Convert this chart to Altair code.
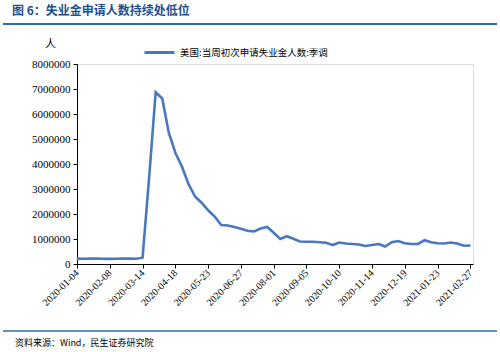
import altair as alt
import pandas as pd

dates = pd.date_range("2020-01-04", periods=61, freq="7D").strftime("%Y-%m-%d").tolist()
claims = [
    215000, 212000, 214000, 218000, 208000, 206000, 210000, 216000, 214000, 211000,
    251000, 3450000, 6870000, 6620000, 5250000, 4450000, 3900000, 3200000, 2700000, 2450000,
    2150000, 1900000, 1560000, 1540000, 1480000, 1410000, 1330000, 1300000, 1420000, 1480000,
    1250000, 1000000, 1110000, 1010000, 900000, 890000, 890000, 870000, 850000, 760000,
    860000, 820000, 800000, 780000, 720000, 760000, 800000, 700000, 870000, 920000,
    830000, 800000, 800000, 950000, 870000, 830000, 820000, 860000, 820000, 730000,
    740000,
]
series_name = "美国:当周初次申请失业金人数:季调"
tick_idx = list(range(0, 61, 5))
tick_labels = [dates[i] for i in tick_idx]

df = pd.DataFrame({"i": list(range(len(dates))), "date": dates, "v": claims, "s": series_name})

W, H = 396, 200
label_arr = "[" + ",".join(f"'{d}'" for d in tick_labels) + "]"
serif = "Liberation Serif"
cjk = "Noto Sans CJK SC"

line = alt.Chart(df).mark_line(strokeWidth=2.6, color="#4A78BD").encode(
    x=alt.X("i:Q", scale=alt.Scale(domain=[0, 60.4], nice=False, zero=False),
            axis=alt.Axis(values=tick_idx, labelExpr=label_arr + "[round(datum.value/5)]",
                          title=None, grid=False, labelAngle=-45, labelAlign="right",
                          labelBaseline="middle", labelFont=serif, labelFontSize=10,
                          labelColor="#000", domainColor="#000", tickColor="#000",
                          tickSize=4, labelPadding=3, labelOverlap=False)),
    y=alt.Y("v:Q", scale=alt.Scale(domain=[0, 8000000], nice=False),
            axis=alt.Axis(values=list(range(0, 8000001, 1000000)), format="d", title=None,
                          grid=False, labelFont=serif, labelFontSize=11, labelColor="#000",
                          domainColor="#000", tickColor="#000", tickSize=4, labelPadding=3)),
    color=alt.Color("s:N", scale=alt.Scale(range=["#4A78BD"]),
                    legend=alt.Legend(title=None, orient="none", legendX=66, legendY=-28,
                                      symbolType="stroke", symbolStrokeWidth=3, symbolSize=900,
                                      labelFont=cjk, labelFontSize=9.5, labelColor="#000",
                                      padding=0)),
)

def txt(s, x, y, size, color="#000", weight="normal", font=cjk, align="left"):
    return alt.Chart(df.head(1)).mark_text(text=s, fontSize=size, color=color, fontWeight=weight,
                                           font=font, align=align, baseline="middle").encode(
        x=alt.value(x), y=alt.value(y))

def hrule(y, color, w):
    return alt.Chart(df.head(1)).mark_rule(color=color, strokeWidth=w).encode(
        x=alt.value(-74), x2=alt.value(420), y=alt.value(y))

L, T = 77, 64
layers = [
    line,
    txt("图 6：失业金申请人数持续处低位", 12 - L, 11 - T, 12, color="#1F4E8C", weight="bold"),
    hrule(24 - T, "#2F6BAE", 2),
    txt("人", 45 - L, 45 - T, 11),
    hrule(331 - T, "#2F6BAE", 1.5),
    txt("资料来源：Wind，民生证券研究院", 15 - L, 343 - T, 9),
]
chart = alt.layer(*layers).properties(
    width=W, height=H,
    autosize=alt.AutoSizeParams(type="none"),
    padding={"left": L, "top": T, "right": 500 - L - W, "bottom": 352 - T - H},
).configure_view(stroke=None).configure(background="white")

chart.save("out.html", embed_options={"renderer": "svg", "actions": False})
